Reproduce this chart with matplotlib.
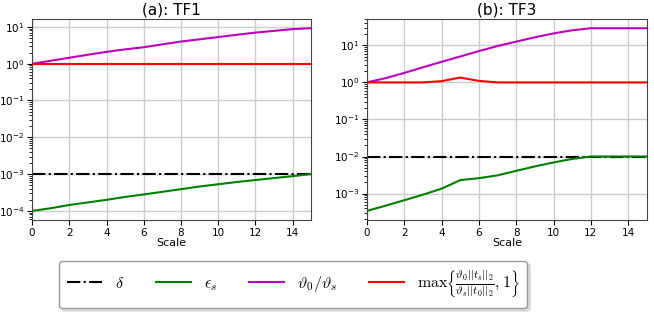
import matplotlib
matplotlib.use("Agg")
import matplotlib.pyplot as plt
from matplotlib.font_manager import FontProperties
from matplotlib.ticker import LogLocator, NullFormatter
import numpy as np

plt.rcParams["axes.unicode_minus"] = False

scale = list(range(16))

# Panel (a): TF1
tf1_delta = [1e-3] * 16
tf1_eps = [1.0e-4, 1.18e-4, 1.45e-4, 1.7e-4, 2.0e-4, 2.4e-4, 2.8e-4, 3.3e-4,
           3.9e-4, 4.6e-4, 5.3e-4, 6.1e-4, 6.9e-4, 7.8e-4, 8.8e-4, 1.0e-3]
tf1_ratio = [1.0, 1.2, 1.45, 1.75, 2.1, 2.45, 2.8, 3.35,
             4.0, 4.6, 5.3, 6.1, 7.0, 7.8, 8.7, 9.2]
tf1_max = [1.0] * 16

# Panel (b): TF3
tf3_delta = [1e-2] * 16
tf3_eps = [3.4e-4, 4.7e-4, 6.6e-4, 9.3e-4, 1.35e-3, 2.3e-3, 2.6e-3, 3.1e-3,
           4.1e-3, 5.4e-3, 6.9e-3, 8.6e-3, 1.0e-2, 1.0e-2, 1.0e-2, 1.0e-2]
tf3_ratio = [1.0, 1.3, 1.8, 2.55, 3.6, 5.0, 7.0, 9.6,
             12.6, 16.5, 21.0, 25.5, 29.0, 29.0, 29.0, 29.0]
tf3_max = [1.0, 1.0, 1.0, 1.0, 1.08, 1.35, 1.1, 1.0,
           1.0, 1.0, 1.0, 1.0, 1.0, 1.0, 1.0, 1.0]

titles = ["(a): TF1", "(b): TF3"]
labels = [r"$\delta$", r"$\epsilon_s$", r"$\vartheta_0/\vartheta_s$",
          r"$\max\left\{\frac{\vartheta_0||t_s||_2}{\vartheta_s||t_0||_2},1\right\}$"]

fig = plt.figure(figsize=(6.54, 3.13), dpi=100)
ax1 = fig.add_axes([0.049, 0.297, 0.427, 0.642])
ax2 = fig.add_axes([0.561, 0.297, 0.428, 0.642])

data = [(tf1_delta, tf1_eps, tf1_ratio, tf1_max),
        (tf3_delta, tf3_eps, tf3_ratio, tf3_max)]

handles = []
for ax, title, (d, e, r, m) in zip([ax1, ax2], titles, data):
    h1, = ax.plot(scale, d, color="k", ls="-.", lw=1.5)
    h2, = ax.plot(scale, e, color="g", lw=1.5)
    h3, = ax.plot(scale, r, color="m", lw=1.5)
    h4, = ax.plot(scale, m, color="r", lw=1.5)
    handles = [h1, h2, h3, h4]
    ax.set_yscale("log")
    ax.yaxis.set_minor_locator(LogLocator(base=10, subs=np.arange(2, 10), numticks=100))
    ax.yaxis.set_minor_formatter(NullFormatter())
    ax.set_xlim(0, 15)
    ax.set_xticks(range(0, 16, 2))
    ax.grid(True, which="major", color="#cccccc", lw=1)
    ax.set_axisbelow(True)
    ax.set_title(title, fontsize=11, pad=3)
    ax.set_xlabel("Scale", fontsize=8, labelpad=0)
    ax.tick_params(labelsize=7.5, pad=2, length=3.5)
    ax.tick_params(which="minor", length=2, width=0.6)
    for s in ax.spines.values():
        s.set_color("#444444")

fp = FontProperties(size=11.5, math_fontfamily="cm")
fig.legend(handles, labels, loc="center", bbox_to_anchor=(0.448, 0.091),
           ncol=4, prop=fp, shadow={"color": "0.75"}, fancybox=True,
           columnspacing=2.0, handlelength=2.2, borderpad=0.5, edgecolor="#999999")

fig.savefig("out.png", dpi=100)
